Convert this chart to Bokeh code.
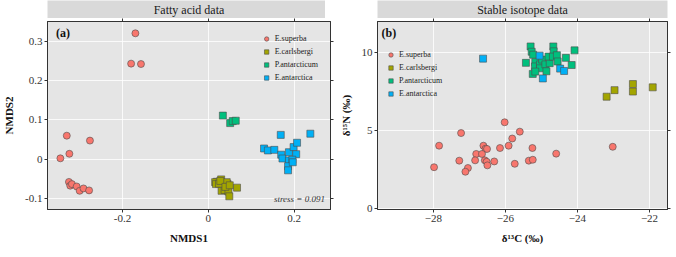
from bokeh.plotting import figure
from bokeh.models import (Range1d, FixedTicker, LinearAxis, Label, Legend, LegendItem,
                          CustomJSTickFormatter)
from bokeh.layouts import row, column
from bokeh.embed import file_html
from bokeh.resources import INLINE

species = ["E.superba", "E.carlsbergi", "P.antarcticum", "E.antarctica"]
colors = ["#F8766D", "#A3A500", "#00BF7D", "#00B0F6"]
markers = ["circle", "square", "square", "square"]

# ---- Panel (a): NMDS of fatty acid data ----
fa_superba_x = [-0.170, -0.180, -0.157, -0.330, -0.276, -0.324, -0.345, -0.325, -0.322, -0.318, -0.307, -0.300, -0.291, -0.278]
fa_superba_y = [0.320, 0.243, 0.242, 0.060, 0.0475, 0.014, 0.0025, -0.0575, -0.067, -0.063, -0.069, -0.080, -0.074, -0.079]
fa_carls_x = [0.020, 0.030, 0.034, 0.045, 0.016, 0.018, 0.031, 0.038, 0.047, 0.049, 0.067, 0.043, 0.025, 0.028, 0.040, 0.050]
fa_carls_y = [-0.057, -0.051, -0.061, -0.063, -0.058, -0.063, -0.080, -0.078, -0.082, -0.094, -0.072, -0.058, -0.062, -0.055, -0.070, -0.066]
fa_pant_x = [0.034, 0.051, 0.057, 0.064]
fa_pant_y = [0.111, 0.092, 0.097, 0.098]
fa_eant_x = [0.169, 0.238, 0.130, 0.139, 0.154, 0.170, 0.173, 0.188, 0.199, 0.207, 0.205, 0.188, 0.196, 0.186, 0.186, 0.197]
fa_eant_y = [0.062, 0.065, 0.0275, 0.0225, 0.024, 0.0117, 0.002, 0.018, 0.031, 0.042, 0.013, -0.003, -0.001, -0.0175, -0.028, -0.0075]

fa_xticks = [-0.2, 0.0, 0.2]
fa_yticks = [-0.1, 0.0, 0.1, 0.2, 0.3]
stress_text = "stress = 0.091"

# ---- Panel (b): stable isotope data ----
si_superba_x = [-26.02, -27.23, -25.60, -27.84, -25.81, -26.61, -26.55, -26.51, -26.15, -25.91, -25.25, -23.02, -24.59, -26.81,
                -26.65, -27.98, -27.28, -26.84, -26.57, -26.52, -26.50, -26.31, -25.74, -25.35, -25.24, -27.04, -27.11]
si_superba_y = [5.54, 4.85, 4.94, 4.04, 4.50, 4.04, 3.85, 3.83, 3.89, 4.04, 3.89, 3.97, 3.53, 3.51,
                3.51, 2.66, 3.08, 3.10, 3.10, 3.01, 2.78, 3.03, 2.88, 3.08, 3.14, 2.61, 2.37]
si_carls_x = [-23.19, -22.97, -22.46, -22.46, -21.91]
si_carls_y = [7.18, 7.60, 7.99, 7.51, 7.78]
si_pant_x = [-25.30, -25.27, -25.23, -25.43, -25.17, -25.18, -25.04, -24.98, -25.04, -24.89, -24.77, -24.80,
             -24.67, -24.66, -24.68, -24.57, -24.55, -24.32, -24.08, -24.16, -25.24, -25.17, -24.86]
si_pant_y = [10.40, 10.06, 9.87, 9.35, 9.40, 9.12, 9.25, 9.56, 9.00, 9.25, 9.33, 9.75,
             10.40, 10.09, 9.75, 9.84, 9.44, 9.67, 10.15, 9.21, 8.64, 8.79, 8.81]
si_eant_x = [-26.62, -25.05, -24.96, -24.48, -24.37]
si_eant_y = [9.62, 9.81, 8.35, 8.98, 8.83]

si_xticks = [-28, -26, -24, -22]
si_yticks = [0, 5, 10]

FONT = "Liberation Serif"
PANEL_BG = "#E5E5E5"
STRIP_BG = "#D9D9D9"
DARK = "#333333"
FRAME_H = 188


def make_strip(text, left, fw, right):
    s = figure(frame_width=fw, frame_height=18, x_range=Range1d(0, 1), y_range=Range1d(0, 1),
               toolbar_location=None, output_backend="svg",
               min_border_left=left, min_border_right=right, min_border_top=0, min_border_bottom=0)
    s.axis.visible = False
    s.grid.visible = False
    s.outline_line_color = None
    s.background_fill_color = STRIP_BG
    s.add_layout(Label(x=0.5, y=0.5, text=text, text_align="center", text_baseline="middle",
                       text_font=FONT, text_font_size="12px", text_color="#1A1A1A"))
    return s


def empty_axis(ticks):
    return LinearAxis(ticker=FixedTicker(ticks=ticks),
                      formatter=CustomJSTickFormatter(code="return ''"),
                      major_tick_out=3, major_tick_in=0, minor_tick_out=0, minor_tick_in=0,
                      major_label_standoff=0, major_label_text_font_size="1px",
                      axis_line_color=DARK, major_tick_line_color=DARK)


def make_panel(xr, yr, xticks, yticks, xlabel, ylabel, left, fw, right, series, fmt_code=None):
    p = figure(frame_width=fw, frame_height=FRAME_H, x_range=Range1d(*xr), y_range=Range1d(*yr),
               toolbar_location=None, output_backend="svg",
               min_border_left=left, min_border_right=right, min_border_top=3, min_border_bottom=30)
    p.background_fill_color = PANEL_BG
    p.outline_line_color = DARK
    p.outline_line_width = 1
    p.xaxis.ticker = FixedTicker(ticks=xticks)
    p.yaxis.ticker = FixedTicker(ticks=yticks)
    if fmt_code:
        p.xaxis.formatter = CustomJSTickFormatter(code=fmt_code)
        p.yaxis.formatter = CustomJSTickFormatter(code=fmt_code)
    for ax in (p.xaxis[0], p.yaxis[0]):
        ax.major_tick_out = 3
        ax.major_tick_in = 0
        ax.minor_tick_out = 0
        ax.minor_tick_in = 0
        ax.major_label_standoff = 2
        ax.major_label_text_font = FONT
        ax.major_label_text_font_size = "11px"
        ax.major_label_text_color = "#333333"
        ax.axis_line_color = DARK
        ax.major_tick_line_color = DARK
        ax.axis_label_text_font = FONT
        ax.axis_label_text_font_size = "11px"
        ax.axis_label_text_font_style = "bold"
        ax.axis_label_text_color = "#111111"
        ax.axis_label_standoff = 7
    p.xaxis.axis_label = xlabel
    p.yaxis.axis_label = ylabel
    p.add_layout(empty_axis(xticks), "above")
    p.add_layout(empty_axis(yticks), "right")
    p.xgrid.grid_line_color = "white"
    p.ygrid.grid_line_color = "white"
    p.xgrid.grid_line_width = 0.8
    p.ygrid.grid_line_width = 0.8
    items = []
    for (xs, ys), name, col, mk in zip(series, species, colors, markers):
        r = p.scatter(xs, ys, marker=mk, size=7, fill_color=col, line_color="#4D4D4D", line_width=0.6)
        items.append(LegendItem(label=name, renderers=[r]))
    return p, items


def style_legend(lg):
    lg.label_text_font = FONT
    lg.label_text_font_size = "8px"
    lg.label_text_color = "#222222"
    lg.background_fill_alpha = 0
    lg.border_line_alpha = 0
    lg.glyph_height = 11
    lg.glyph_width = 11
    lg.label_height = 10
    lg.label_standoff = 3
    lg.spacing = 2
    lg.padding = 4


# Panel (a)
L1, FW1, R1 = 36, 283, 6
pa, items_a = make_panel((-0.375, 0.285), (-0.1275, 0.35), fa_xticks, fa_yticks, "NMDS1", "NMDS2",
                         L1, FW1, R1,
                         [(fa_superba_x, fa_superba_y), (fa_carls_x, fa_carls_y),
                          (fa_pant_x, fa_pant_y), (fa_eant_x, fa_eant_y)],
                         fmt_code="return Math.abs(tick) < 1e-9 ? '0' : tick.toFixed(1);")
lga = Legend(items=items_a, location="top_right", margin=8)
style_legend(lga)
pa.add_layout(lga, "center")
pa.add_layout(Label(x=-0.355, y=0.338, text="(a)", text_font=FONT, text_font_size="12px",
                    text_font_style="bold", text_baseline="top", text_color="#111111"))
pa.add_layout(Label(x=0.272, y=-0.1, text=stress_text, text_font=FONT, text_font_size="9px",
                    text_font_style="italic", text_align="right", text_baseline="middle",
                    text_color="#333333"))

# Panel (b)
L2, FW2, R2 = 38, 290, 6
pb, items_b = make_panel((-29.55, -21.5), (-0.05, 12.0), si_xticks, si_yticks,
                         "δ¹³C (‰)", "δ¹⁵N (‰)", L2, FW2, R2,
                         [(si_superba_x, si_superba_y), (si_carls_x, si_carls_y),
                          (si_pant_x, si_pant_y), (si_eant_x, si_eant_y)])
lgb = Legend(items=items_b, location=(4, 106), margin=0)
style_legend(lgb)
pb.add_layout(lgb, "center")
pb.add_layout(Label(x=-29.44, y=11.68, text="(b)", text_font=FONT, text_font_size="12px",
                    text_font_style="bold", text_baseline="top", text_color="#111111"))

sa = make_strip("Fatty acid data", L1, FW1, R1)
sb = make_strip("Stable isotope data", L2, FW2, R2)

layout = row(column(sa, pa, spacing=0), column(sb, pb, spacing=0), spacing=0)

open("out.html", "w").write(file_html(layout, INLINE))
